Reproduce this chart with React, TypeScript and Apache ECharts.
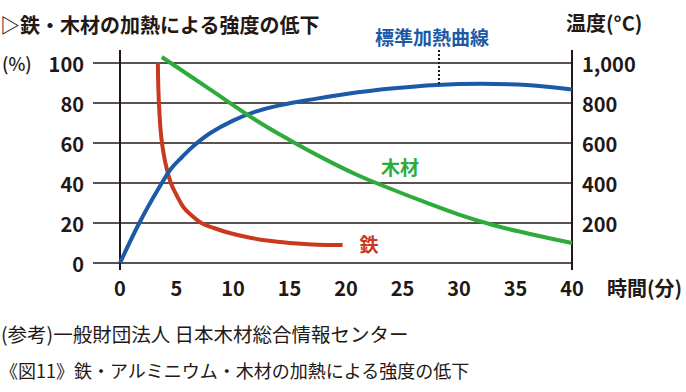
import React, { useEffect, useRef } from 'react';
import * as echarts from 'echarts';

const xLabelValues = [0, 5, 10, 15, 20, 25, 30, 35, 40];
const xAxisLineValues = [0, 40];
const leftTicks = [0, 20, 40, 60, 80, 100];
const rightTicks = [200, 400, 600, 800, 1000];

// 標準加熱曲線 (°C)
const fireCurve: [number, number][] = [
  [0, 0], [1.8, 210], [3.7, 400], [4.5, 470], [5.5, 530], [6.5, 585], [8, 650],
  [10, 712], [12, 757], [14, 787], [17, 818], [20, 845], [24, 872], [28, 890],
  [32, 896], [36, 890], [40, 868],
];

// 鉄 (%)
const ironData: [number, number][] = [
  [3.35, 100], [3.4, 86], [3.5, 74], [3.65, 63], [3.85, 55], [4.1, 48], [4.5, 40],
  [5, 34], [5.6, 28], [6.3, 24], [7.2, 20], [8.3, 17.5], [9.7, 15], [11.2, 13],
  [13, 11.2], [15, 10], [17, 9.3], [19.7, 9],
];

// 木材 (%)
const woodData: [number, number][] = [
  [3.7, 103], [8, 86.7], [12, 71.5], [15, 61.5], [18, 52.3], [21, 44], [24, 37],
  [27, 30.4], [30, 24.2], [33, 19], [36, 14.9], [40, 10],
];

const markerX = 28.2;
const markerTop = 1065;
const markerBottom = 893;

const INK = '#231815';
const BLUE = '#1b5aa7';
const RED = '#c8391d';
const GREEN = '#2eab3c';
const FONT = '"Noto Sans CJK JP", "Noto Sans", sans-serif';

export default function App() {
  const ref = useRef<HTMLDivElement>(null);
  useEffect(() => {
    if (!ref.current) return;
    const chart = echarts.init(ref.current, undefined, { renderer: 'svg' });
    const numLabel = {
      fontSize: 20,
      fontWeight: 'bold' as const,
      color: INK,
      fontFamily: FONT,
    };
    const txt = (text: string, x: number, y: number, size: number, color: string, weight: any = 'bold', align = 'left') => ({
      type: 'text',
      x,
      y,
      style: {
        text,
        fill: color,
        fontSize: size,
        fontWeight: weight,
        fontFamily: FONT,
        textAlign: align,
        textVerticalAlign: 'middle',
      },
    });
    chart.setOption({
      animation: false,
      grid: { left: 93, right: 114, top: 50, bottom: 122 },
      xAxis: {
        type: 'value',
        min: -2.39,
        max: 40,
        axisLine: { show: false },
        axisTick: { show: false, customValues: xAxisLineValues },
        splitLine: { show: true, lineStyle: { color: INK, width: 2 } },
        axisLabel: { ...numLabel, customValues: xLabelValues, margin: 7 },
      },
      yAxis: [
        {
          type: 'value',
          min: -3.5,
          max: 106.5,
          position: 'left',
          axisLine: { show: false },
          axisTick: { show: false, customValues: leftTicks },
          splitLine: { show: true, lineStyle: { color: INK, width: 1.6 } },
          axisLabel: { ...numLabel, customValues: leftTicks, margin: 9 },
        },
        {
          type: 'value',
          min: -35,
          max: 1065,
          position: 'right',
          axisLine: { show: false },
          axisTick: { show: false, customValues: rightTicks },
          splitLine: { show: false },
          axisLabel: {
            ...numLabel,
            customValues: rightTicks,
            margin: 10,
            formatter: (v: number) => v.toLocaleString('en-US'),
          },
        },
      ],
      series: [
        {
          name: '標準加熱曲線',
          type: 'line',
          yAxisIndex: 1,
          data: fireCurve,
          showSymbol: false,
          smooth: 0.4,
          lineStyle: { color: BLUE, width: 4 },
          markLine: {
            silent: true,
            symbol: ['none', 'none'],
            label: { show: false },
            lineStyle: { color: INK, width: 2, type: [2, 2] },
            data: [[{ coord: [markerX, markerTop] }, { coord: [markerX, markerBottom] }]],
          },
          z: 3,
        },
        {
          name: '鉄',
          type: 'line',
          yAxisIndex: 0,
          data: ironData,
          showSymbol: false,
          smooth: 0.4,
          lineStyle: { color: RED, width: 4 },
          z: 2,
        },
        {
          name: '木材',
          type: 'line',
          yAxisIndex: 0,
          data: woodData,
          showSymbol: false,
          smooth: 0.4,
          lineStyle: { color: GREEN, width: 4 },
          z: 4,
        },
      ],
      graphic: [
        txt('▷鉄・木材の加熱による強度の低下', 0, 24, 20, INK),
        txt('温度(°C)', 566, 22, 20, INK),
        txt('(%)', 2, 63, 18, INK, 500),
        txt('時間(分)', 607, 287, 20, INK),
        txt('標準加熱曲線', 375, 36, 19, BLUE),
        txt('木材', 400, 166, 19, GREEN, 'bold', 'center'),
        txt('鉄', 369, 243, 19, RED, 'bold', 'center'),
        txt('(参考)一般財団法人 日本木材総合情報センター', 1, 333, 19.5, INK, 'normal'),
        txt('《図11》鉄・アルミニウム・木材の加熱による強度の低下', 0, 370, 18, INK, 'normal'),
      ],
    });
    return () => chart.dispose();
  }, []);
  return (
    <div
      ref={ref}
      style={{ position: 'absolute', left: 0, top: 0, width: 686, height: 392, background: '#fff' }}
    />
  );
}
